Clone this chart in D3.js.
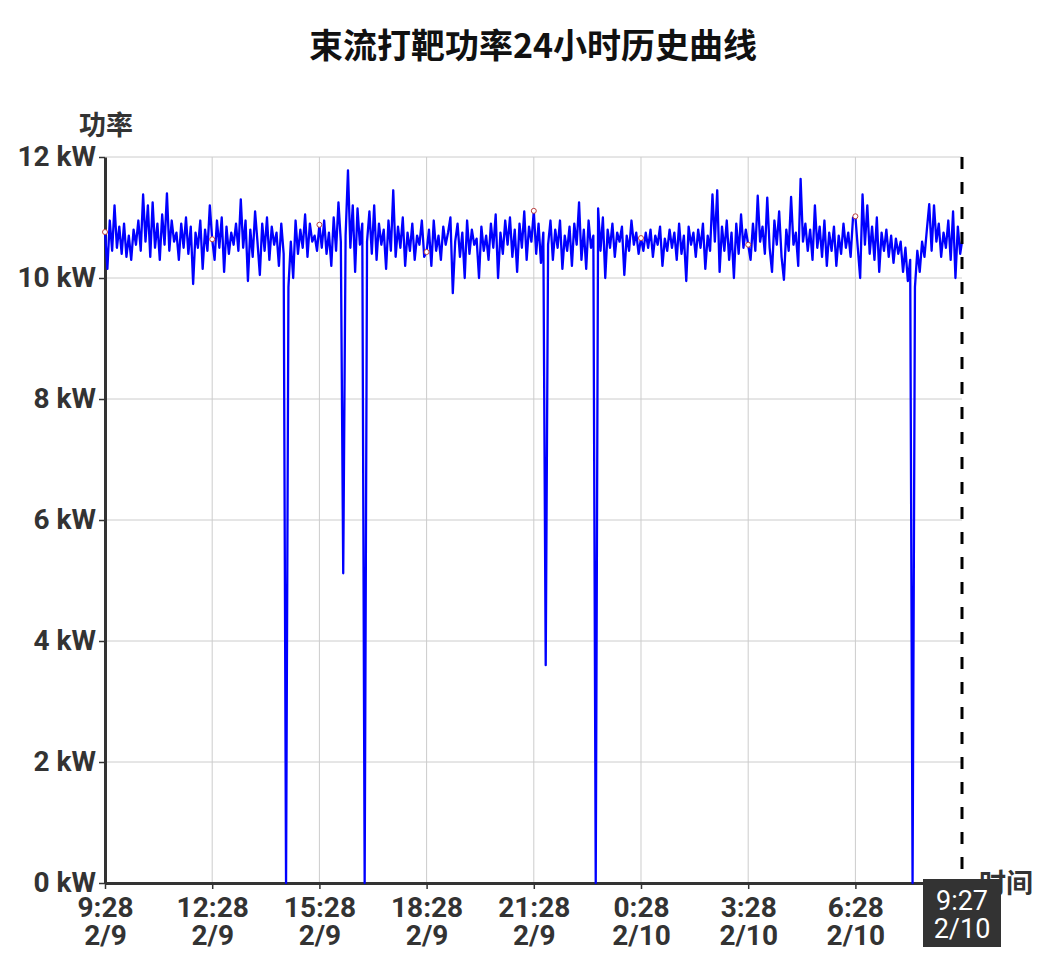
<!DOCTYPE html>
<html>
<head>
<meta charset="utf-8">
<script src="https://cdn.jsdelivr.net/npm/d3@7"></script>
<style>
  body { margin: 0; background: #fff; }
  text { font-family: Roboto, "Noto Sans CJK SC", sans-serif; }
</style>
</head>
<body>
<svg id="chart" width="1055" height="963"></svg>
<script>
// ---------------- data ----------------
const chartTitle = "束流打靶功率24小时历史曲线";
const yAxisTitle = "功率";
const xAxisTitle = "时间";
const startTime = "2024-02-09T09:28";
const endTime = "2024-02-10T09:27";
const sampleStepMinutes = 4;

const powerKW = [
  10.76,10.15,10.95,10.45,11.2,10.5,10.85,10.4,10.9,10.35,10.7,10.3,10.8,10.55,10.95,10.45,11.38,10.6,11.2,10.35,
  11.25,10.5,10.9,10.3,11.05,10.55,11.4,10.45,10.95,10.6,10.75,10.3,10.9,10.5,11.0,10.4,10.85,9.9,10.75,10.5,
  10.95,10.15,10.8,10.45,11.2,10.64,
  10.3,10.95,10.5,11.0,10.1,10.85,10.4,10.75,10.55,10.9,10.45,11.3,10.5,10.95,9.95,10.8,10.35,11.1,10.6,10.05,
  10.9,10.45,11.0,10.3,10.85,10.55,10.75,10.2,10.9,10.4,0,9.85,10.6,10.0,10.95,10.4,10.8,10.5,11.05,10.35,
  10.9,10.6,10.7,10.45,10.88,
  10.5,10.95,10.4,10.75,10.2,11.0,10.45,11.25,10.6,5.12,10.7,11.78,10.5,11.2,10.1,11.15,10.55,10.9,0,10.6,
  11.1,10.4,11.2,10.3,10.9,10.55,10.8,10.15,10.95,10.45,11.45,10.35,10.85,10.5,11.0,10.2,10.75,10.45,10.9,10.3,
  10.7,10.55,10.95,10.35,10.43,
  10.8,10.2,10.95,10.45,10.7,10.3,10.85,10.55,10.75,11.0,9.75,10.6,10.9,10.35,10.75,10.0,10.95,10.4,10.8,10.55,
  10.65,10.0,10.85,10.45,10.7,10.3,10.9,10.5,11.05,10.0,10.75,10.4,10.95,10.55,11.0,10.35,10.8,10.1,10.9,10.5,
  11.1,10.3,10.85,10.6,11.11,
  10.4,10.9,10.25,10.75,3.6,10.55,10.95,10.3,10.8,10.5,10.95,10.15,10.7,10.45,10.85,10.2,10.9,10.55,11.25,10.3,
  10.8,10.15,10.95,10.5,10.7,0,11.15,10.45,11.0,10.0,10.8,10.5,10.9,10.35,10.75,10.6,10.85,10.05,10.7,10.45,
  10.95,10.55,10.75,10.4,10.66,
  10.45,10.75,10.5,10.8,10.35,10.7,10.55,10.85,10.2,10.65,10.45,10.8,10.5,10.75,10.3,10.9,10.4,10.7,9.95,10.85,
  10.55,10.75,10.35,10.8,10.5,10.9,10.15,10.7,10.45,11.38,10.6,11.45,10.1,10.85,10.45,10.95,10.3,10.75,10.0,10.9,
  10.4,11.05,10.5,10.8,10.55,
  10.3,10.9,10.45,11.36,10.6,10.85,10.4,11.33,10.5,10.1,10.95,10.55,11.1,10.35,9.97,10.8,10.45,11.34,10.55,10.75,
  10.2,11.64,10.6,10.9,10.45,10.8,10.3,11.2,10.5,10.85,10.35,10.95,10.2,10.75,10.45,10.85,10.2,10.7,10.4,10.9,
  10.5,10.75,10.35,11.0,11.02,
  10.5,10.0,11.38,10.55,11.2,10.4,10.85,10.3,11.0,10.1,10.75,10.45,10.8,10.35,10.7,10.25,10.65,10.4,10.6,10.1,
  10.5,9.95,10.3,0,9.85,10.45,10.1,10.6,10.35,10.8,11.22,10.45,11.2,10.6,10.9,10.35,10.75,10.5,10.95,10.3,
  11.1,10.0,10.85,10.4,10.6
];

const xTickTimes = [
  "2024-02-09T09:28","2024-02-09T12:28","2024-02-09T15:28","2024-02-09T18:28",
  "2024-02-09T21:28","2024-02-10T00:28","2024-02-10T03:28","2024-02-10T06:28"
];
const yTickValues = [0, 2, 4, 6, 8, 10, 12];
const yUnit = " kW";

// ---------------- layout ----------------
const W = 1055, H = 963;
const plotL = 105, plotR = 962, plotT = 157, plotB = 883;

const parse = d3.timeParse("%Y-%m-%dT%H:%M");
const t0 = parse(startTime), t1 = parse(endTime);
const tickDates = xTickTimes.map(parse);
const fmtTime = d3.timeFormat("%-H:%M");
const fmtDate = d3.timeFormat("%-m/%-d");

const series = powerKW.map((v, i) => {
  const t = new Date(Math.min(t0.getTime() + i * sampleStepMinutes * 60000, t1.getTime()));
  return { t, v };
});

const x = d3.scaleTime().domain([t0, t1]).range([plotL, plotR]);
const y = d3.scaleLinear().domain([0, 12]).range([plotB, plotT]);

const svg = d3.select("#chart");
svg.append("rect").attr("width", W).attr("height", H).attr("fill", "#fff");

// title
svg.append("text").attr("x", 533).attr("y", 58).attr("text-anchor", "middle")
  .attr("font-size", 34).attr("font-weight", "bold").attr("fill", "#111")
  .style("font-family", '"Noto Sans CJK SC", sans-serif')
  .text(chartTitle);

// grid
const grid = svg.append("g");
grid.selectAll("line.h").data(yTickValues).join("line")
  .attr("x1", plotL).attr("x2", plotR)
  .attr("y1", d => y(d)).attr("y2", d => y(d))
  .attr("stroke", "#cccccc").attr("stroke-width", 1);
grid.selectAll("line.v").data(tickDates).join("line")
  .attr("x1", d => x(d)).attr("x2", d => x(d))
  .attr("y1", plotT).attr("y2", plotB)
  .attr("stroke", "#cccccc").attr("stroke-width", 1);

// y axis
const yAxis = svg.append("g").attr("transform", `translate(${plotL},0)`)
  .call(d3.axisLeft(y).tickValues(yTickValues).tickFormat(d => d + yUnit).tickSize(6).tickSizeOuter(0).tickPadding(3));
yAxis.select(".domain").attr("stroke", "#333").attr("stroke-width", 3);
yAxis.selectAll(".tick line").attr("stroke", "#333").attr("stroke-width", 1.5);
yAxis.selectAll(".tick text").attr("font-size", 28).attr("font-weight", "bold")
  .attr("fill", "#333").style("font-family", "Roboto, sans-serif");

// x axis
const xAxis = svg.append("g").attr("transform", `translate(0,${plotB})`)
  .call(d3.axisBottom(x).tickValues(tickDates).tickFormat("").tickSize(6).tickSizeOuter(0));
xAxis.select(".domain").attr("stroke", "#333").attr("stroke-width", 3);
xAxis.selectAll(".tick line").attr("stroke", "#333").attr("stroke-width", 1.5);
xAxis.selectAll(".tick text").remove();
const xl = xAxis.selectAll(".tick").append("text")
  .attr("text-anchor", "middle").attr("font-size", 28).attr("font-weight", "bold")
  .attr("fill", "#333").style("font-family", "Roboto, sans-serif");
xl.append("tspan").attr("x", 0).attr("y", 34).text(d => fmtTime(d));
xl.append("tspan").attr("x", 0).attr("y", 62).text(d => fmtDate(d));

// axis titles
svg.append("text").attr("x", 106).attr("y", 135).attr("text-anchor", "middle")
  .attr("font-size", 27).attr("font-weight", "bold").attr("fill", "#333")
  .style("font-family", '"Noto Sans CJK SC", sans-serif').text(yAxisTitle);
svg.append("text").attr("x", 979).attr("y", 893)
  .attr("font-size", 27).attr("font-weight", "bold").attr("fill", "#333")
  .style("font-family", '"Noto Sans CJK SC", sans-serif').text(xAxisTitle);

// line
const line = d3.line().x(d => x(d.t)).y(d => y(d.v));
svg.append("path").datum(series).attr("d", line)
  .attr("fill", "none").attr("stroke", "#0000ff").attr("stroke-width", 2.3)
  .attr("stroke-linejoin", "round");

// markers at tick times
const tickSet = new Set(tickDates.map(d => d.getTime()));
svg.append("g").selectAll("circle").data(series.filter(d => tickSet.has(d.t.getTime()))).join("circle")
  .attr("cx", d => x(d.t)).attr("cy", d => y(d.v)).attr("r", 2.5)
  .attr("fill", "#fff").attr("stroke", "#b84040").attr("stroke-width", 1);

// dashed cursor line at end
svg.append("line").attr("x1", x(t1)).attr("x2", x(t1)).attr("y1", plotT).attr("y2", plotB)
  .attr("stroke", "#000").attr("stroke-width", 3).attr("stroke-dasharray", "12,13");

// end label box
const bx = x(t1);
svg.append("rect").attr("x", bx - 39).attr("y", 879).attr("width", 78).attr("height", 68)
  .attr("fill", "#333");
const el = svg.append("text").attr("text-anchor", "middle").attr("font-size", 27)
  .attr("fill", "#fff").style("font-family", "Roboto, sans-serif");
el.append("tspan").attr("x", bx).attr("y", 910).text(fmtTime(t1));
el.append("tspan").attr("x", bx).attr("y", 938).text(fmtDate(t1));
</script>
</body>
</html>
